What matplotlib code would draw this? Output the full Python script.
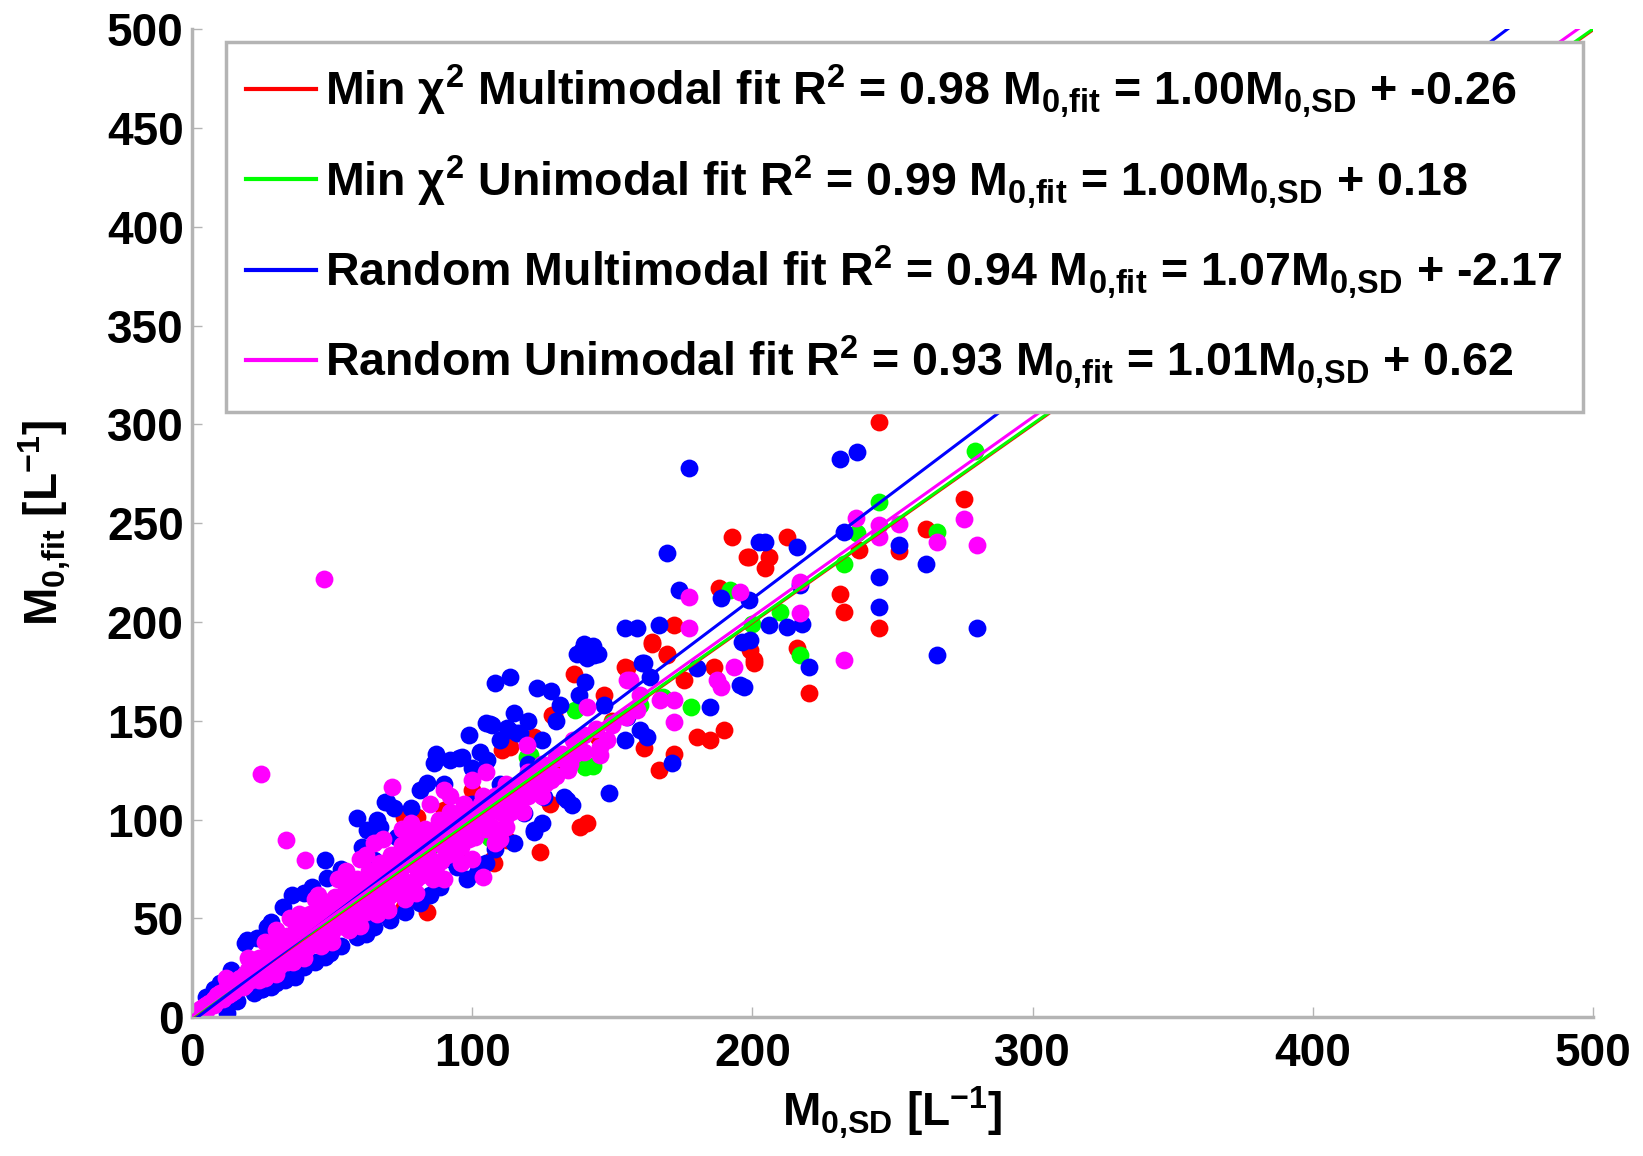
import matplotlib
matplotlib.use("Agg")
import matplotlib.pyplot as plt

plt.rcParams['font.family'] = ['Liberation Sans', 'DejaVu Sans']
plt.rcParams['font.weight'] = 'bold'
plt.rcParams['mathtext.fontset'] = 'custom'
plt.rcParams['mathtext.rm'] = 'Liberation Sans:bold'
plt.rcParams['mathtext.it'] = 'Liberation Sans:bold'
plt.rcParams['mathtext.bf'] = 'Liberation Sans:bold'
plt.rcParams['mathtext.sf'] = 'Liberation Sans:bold'
plt.rcParams['mathtext.default'] = 'rm'

# ---------------- data ----------------
red_x = [245, 275.5, 261.8, 252.3, 238, 231.4, 232.6, 245.1, 220.1, 216, 200.5, 212.4, 198.7, 205.8,
         204.6, 192.7, 198.1, 188, 171.9, 164.2, 169.5, 154.6, 136.2, 186.2, 200.5, 199.3, 175.5, 180.2,
         185, 189.8, 129, 146.9, 161.2, 166.5, 171.9, 138.6, 141, 124.3, 112.4, 110, 120.7, 110.6, 113.6,
         127.9, 128.5, 121.9, 75.5, 83.8, 107.6, 75.5, 80.2, 155.2, 169.5, 164.2, 107, 10, 20, 30, 40, 50,
         60, 70, 80, 90, 100, 60, 95, 115, 130, 145, 150, 100, 90]
red_y = [301, 262.5, 247.3, 236, 236.3, 214.4, 205.1, 196.7, 163.8, 186.6, 179, 243.1, 232.9, 232.9,
         227.1, 243.1, 232.9, 217, 198.4, 189.9, 183.2, 177.3, 173.9, 177.3, 180.7, 185.7, 170.5, 141.9,
         140.2, 145.2, 152.8, 163, 136, 125, 133.4, 96.3, 98, 83.7, 89.6, 94.6, 141, 135.1, 136.8,
         108.1, 152.8, 141.9, 55.8, 53.3, 77.8, 101.4, 101.4, 176.5, 184, 189.1, 79.5, 10, 19, 31, 38, 52,
         58, 72, 78, 92, 98, 47, 80, 112, 128, 142, 150, 115, 105]

green_x = [279.6, 245.1, 266, 237.4, 232.6, 217.1, 192.1, 177.9, 136.8, 140.4, 119.5, 120.7, 106.4, 168,
           143, 10, 25, 40, 55, 70, 85, 100, 115, 130, 150, 160, 200, 210]
green_y = [286.6, 260.8, 245.6, 244.8, 229.6, 183.2, 216.1, 157, 155.4, 126.7, 131.7, 132.6, 90.4, 162,
           127, 10, 26, 41, 54, 71, 86, 101, 114, 131, 149, 158, 199, 205]

blue_x = [177.3, 231.2, 237.4, 261.8, 252.3, 232.6, 245.1, 245.1, 280.2, 266, 220.1, 196.9, 205.8, 212.4,
          217.7, 217.1, 204.6, 216, 198.7, 199.3, 202.3, 169.5, 173.7, 188.6, 154.6, 158.8, 166.5, 161.2,
          139.8, 143.3, 140.4, 140.4, 108.2, 113.6, 123.1, 180.2, 196.3, 195.7, 137.4, 131.4, 107, 113,
          117.1, 102.9, 95.1, 86.2, 81.4, 83.8, 68.9, 58.8, 121.9, 133.8, 163.6, 160.6, 185, 138, 146.9,
          155.2, 154.6, 160, 162.4, 171.3, 148.7, 121.9, 118.3, 135.6, 132.6, 106.4, 112.4, 116, 105.2,
          96.3, 125.5, 47.5, 35.6, 18.9, 69.5, 71.9, 62.4, 60.6, 64.8, 67.1, 73.1, 76.7, 48.1, 42.8, 32.6,
          26.7, 19.5, 36.2, 39.8, 49.3, 58.8, 64.8, 70.7, 81.4, 88.6, 94.5, 101.7, 12.4, 36.8, 47.5, 108,
          92, 74, 139, 143, 141, 145, 22, 28, 30, 5, 10, 14, 10, 20, 30, 40, 50, 60, 70, 80, 90, 100, 110,
          120, 16, 25,
          8, 23, 28, 40, 53, 66, 78, 90, 100, 110, 120, 125, 130, 128,
          25, 33, 44, 53, 62, 76, 85, 98, 105, 115, 125,
          87, 92, 99, 105, 115]
blue_y = [277.7, 282.7, 286.1, 229.6, 238.9, 245.6, 222.8, 207.6, 196.7, 183.2, 177.3, 167.2, 198.4, 197.5,
          199.2, 218.5, 240.5, 238, 211, 190.8, 240.5, 234.7, 216.1, 211.9, 196.7, 196.7, 198.4, 179,
          189.1, 183.2, 184, 169.7, 168.9, 172.2, 166.8, 176.5, 189.9, 168, 184, 157.9, 147.8, 145.2,
          143.6, 134.3, 130.9, 128.4, 114.9, 118.3, 109, 100.6, 94.6, 109.8, 172.2, 179, 157, 163, 157.9,
          152, 140.2, 145.2, 141.9, 128.4, 113.2, 93.8, 103.1, 107.3, 111.5, 148.6, 146.1, 143.6, 130,
          131.7, 111.5, 79.5, 61.7, 37.3, 109, 105.6, 94.6, 86.2, 79.5, 96.3, 91.2, 94.6, 70.2, 65.9, 55.8,
          45.7, 39, 22.1, 25.5, 32.2, 40.6, 45.7, 49.1, 57.5, 65.9, 76.1, 72.7, 1.9, 20.4, 30.5, 85,
          80, 69, 186, 188, 182, 184, 12, 15, 17, 10, 17, 24, 11, 22, 33, 44, 56, 64, 76, 88, 97, 108, 118,
          128, 8, 14,
          14, 40, 48, 63, 75, 100, 106, 118, 126, 140, 150, 140, 150, 165,
          14, 19, 28, 36, 42, 53, 62, 70, 78, 88, 98,
          133, 130, 143, 149, 154]

magenta_x = [47, 24.5, 33.5, 40.4, 71.3, 177.3, 195.7, 177.3, 155.2, 187.4, 193.3, 275.5, 280.2, 266,
             252.3, 245.1, 245.1, 236.8, 232.6, 217.1, 217.1, 156.4, 188.6, 167.1, 171.9, 171.9, 141,
             158.8, 145.7, 145.7, 136.8, 119.5, 104,
             2, 4, 5, 6, 8, 8, 10, 11, 12, 13, 15, 15, 17, 18, 20, 20, 22, 23, 24, 25, 26, 28, 28, 30, 30,
             32, 33, 34, 35, 36, 37, 38, 40, 40, 41, 43, 43, 45, 46, 47, 48, 50, 50, 52, 53, 54, 55, 57,
             58, 60, 61, 62, 63, 65, 66, 67, 69, 70, 71, 73, 74, 75, 77, 78, 80, 81, 82, 84, 86, 87, 88,
             90, 91, 93, 95, 96, 98, 100, 101, 103, 106, 107, 110, 113, 114, 118, 120, 123, 126, 130, 135,
             140, 150, 155, 160,
             20, 38, 45, 55, 65, 75, 85, 60, 30, 12, 90, 100,
             30, 50, 70, 90, 100, 110, 60, 40, 80,
             3, 5, 7, 9, 9, 12, 14, 14, 16, 16, 19, 19, 21, 21, 24, 24, 27, 27, 27, 29, 29, 31, 31, 34,
             34, 36, 37, 39, 39, 41, 42, 42, 44, 45, 46, 48, 49, 51, 51, 53, 54, 55, 56, 58, 59, 60, 62,
             63, 64, 66, 67, 68, 70, 71, 72, 74, 75, 76, 78, 79, 80, 82, 83, 84, 86, 88, 89, 91, 92, 94,
             96, 97, 99, 102, 104, 105, 108, 111, 112, 116, 117, 121, 122, 125, 128, 132, 134, 138,
             62, 52, 44, 35, 26, 68, 78, 92, 105, 108, 96, 86, 76, 66, 56, 46, 36, 26,
             82, 85, 88, 90, 93, 95, 98, 100, 103, 105, 108, 110, 112, 115, 118, 120, 124, 127, 130, 133,
             136, 140, 144, 148, 118, 112, 125, 65, 68, 72, 75, 78, 80, 58, 55, 50, 47, 43, 40, 37, 33,
             30, 27, 23, 20, 17, 14, 11, 8, 5]
magenta_y = [222, 123, 89.6, 79.5, 116.5, 212.7, 215.2, 196.7, 170.5, 170.5, 177.3, 251.9, 238.9, 240.5,
             249.8, 249, 243, 252.4, 180.7, 204.3, 220.3, 170.5, 167.2, 160.4, 160.4, 149.4, 157,
             155.4, 136.8, 132.6, 133.4, 137.6, 71,
             2, 5, 3, 7, 9, 6, 12, 9, 14, 11, 17, 13, 20, 15, 24, 18, 21, 27, 19, 29, 24, 33, 24, 36, 28,
             31, 39, 28, 34, 42, 31, 38, 47, 35, 41, 50, 37, 45, 53, 40, 48, 56, 43, 52, 60, 46, 56, 64,
             49, 60, 67, 53, 63, 71, 57, 68, 75, 61, 72, 79, 64, 76, 83, 68, 80, 88, 72, 84, 92, 76, 89,
             96, 82, 93, 100, 86, 99, 105, 91, 103, 110, 96, 110, 116, 104, 120, 112, 125, 118, 131, 128,
             143, 148, 152, 163,
             30, 52, 62, 74, 88, 95, 108, 80, 44, 20, 115, 120,
             22, 38, 54, 70, 80, 90, 46, 30, 63,
             4, 6, 6, 11, 8, 12, 16, 12, 15, 19, 22, 16, 25, 19, 24, 30, 27, 32, 22, 34, 26, 37, 26, 34,
             41, 30, 44, 36, 47, 35, 45, 52, 39, 55, 44, 58, 42, 50, 61, 46, 57, 66, 50, 60, 70, 52, 64,
             74, 56, 68, 78, 59, 70, 82, 63, 77, 87, 67, 80, 90, 70, 85, 95, 74, 88, 100, 79, 92, 104, 85,
             96, 108, 90, 102, 112, 95, 106, 114, 102, 117, 108, 122, 114, 128, 120, 133, 125, 136,
             82, 70, 60, 50, 38, 90, 98, 112, 124, 88, 78, 70, 60, 52, 44, 36, 28, 20,
             92, 80, 95, 86, 98, 90, 104, 95, 108, 100, 112, 104, 118, 110, 114, 124, 118, 126, 122, 130,
             140, 134, 146, 140, 104, 96, 112, 74, 66, 78, 70, 85, 76, 66, 58, 54, 50, 44, 42, 38, 35,
             31, 29, 23, 21, 17, 14, 11, 8, 5]

fit_labels = [
    r"Min $\chi^2$ Multimodal fit R$^2$ = 0.98 M$_{0{,}fit}$ = 1.00M$_{0{,}SD}$ + -0.26",
    r"Min $\chi^2$ Unimodal fit R$^2$ = 0.99 M$_{0{,}fit}$ = 1.00M$_{0{,}SD}$ + 0.18",
    r"Random Multimodal fit R$^2$ = 0.94 M$_{0{,}fit}$ = 1.07M$_{0{,}SD}$ + -2.17",
    r"Random Unimodal fit R$^2$ = 0.93 M$_{0{,}fit}$ = 1.01M$_{0{,}SD}$ + 0.62",
]
fit_slopes = [1.00, 1.00, 1.07, 1.01]
fit_intercepts = [-0.26, 0.18, -2.17, 0.62]
series_colors = ['#ff0000', '#00ff00', '#0000ff', '#ff00ff']

x_ticks = [0, 100, 200, 300, 400, 500]
y_ticks = [0, 50, 100, 150, 200, 250, 300, 350, 400, 450, 500]

# ---------------- figure ----------------
fig = plt.figure(figsize=(16.43, 11.56), dpi=100)
ax = fig.add_axes([0.1169, 0.1202, 0.8527, 0.8544])

msize = 165
for xs, ys, c in [(red_x, red_y, series_colors[0]), (green_x, green_y, series_colors[1]),
                  (blue_x, blue_y, series_colors[2]), (magenta_x, magenta_y, series_colors[3])]:
    ax.scatter(xs, ys, s=msize, c=c, linewidths=0, zorder=2)

xl = [0, 500]
handles = []
for a, b, c, lab in zip(fit_slopes, fit_intercepts, series_colors, fit_labels):
    h, = ax.plot(xl, [a * v + b for v in xl], color=c, lw=2.2, zorder=3, label=lab)
    handles.append(h)

ax.set_xlim(0, 500)
ax.set_ylim(0, 500)
ax.set_xticks(x_ticks)
ax.set_yticks(y_ticks)
ax.set_xticklabels([str(v) for v in x_ticks])
ax.set_yticklabels([str(v) for v in y_ticks])

for side in ['top', 'right']:
    ax.spines[side].set_visible(False)
for side in ['left', 'bottom']:
    ax.spines[side].set_color('#b4b4b4')
    ax.spines[side].set_linewidth(2.5)

ax.tick_params(axis='both', direction='in', length=7, width=1, color='#b4b4b4',
               labelsize=33, labelcolor='black')
ax.tick_params(axis='x', pad=11)
ax.tick_params(axis='y', pad=6)
for lab in ax.get_xticklabels() + ax.get_yticklabels():
    lab.set_fontweight('bold')

ax.set_xlabel(r"M$_{0{,}SD}$ [L$^{-1}$]", fontsize=33, fontweight='bold')
ax.set_ylabel(r"M$_{0{,}fit}$ [L$^{-1}$]", fontsize=33, fontweight='bold')
ax.xaxis.set_label_coords(0.5, -0.068)
ax.yaxis.set_label_coords(-0.085, 0.5)

leg = ax.legend(handles=handles, loc='upper right', bbox_to_anchor=(0.993, 0.987),
                fontsize=33.5, frameon=True, fancybox=False, handlelength=1.5,
                handletextpad=0.2, labelspacing=0.7, borderpad=0.44, borderaxespad=0)
leg.get_frame().set_edgecolor('#b4b4b4')
leg.get_frame().set_linewidth(2.5)
leg.get_frame().set_facecolor('white')
leg.get_frame().set_alpha(1)
for t in leg.get_texts():
    t.set_fontweight('bold')
for lh in leg.get_lines():
    lh.set_linewidth(3)

fig.savefig('out.png', dpi=100, facecolor='white')
